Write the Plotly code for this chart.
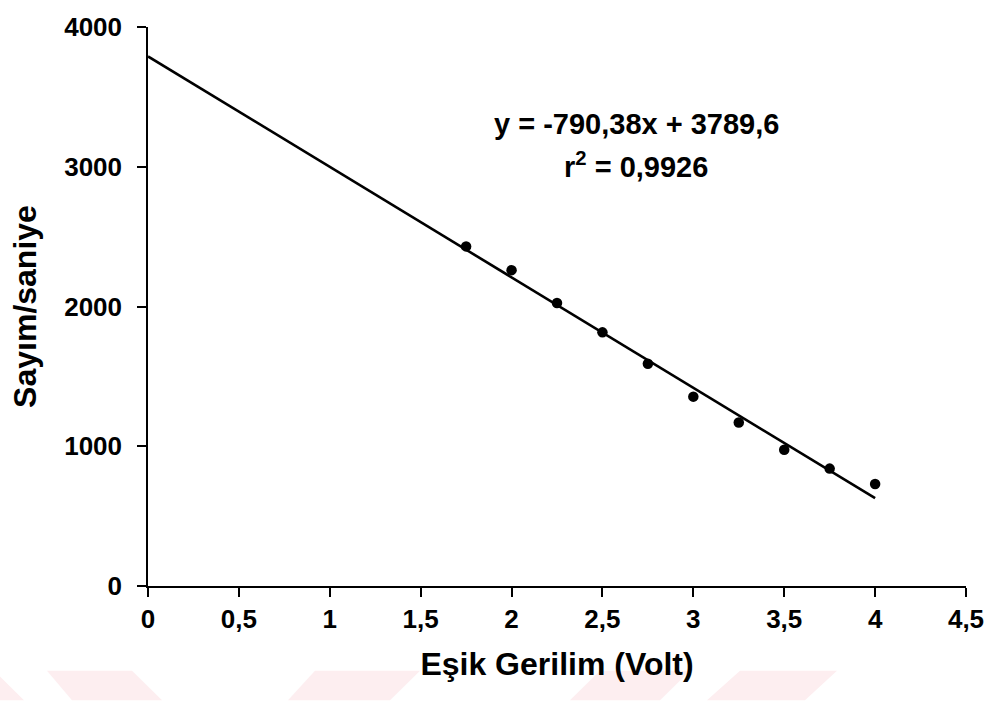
import plotly.graph_objects as go

# Measured count rate versus threshold voltage
esik_gerilim = [1.75, 2.0, 2.25, 2.5, 2.75, 3.0, 3.25, 3.5, 3.75, 4.0]
sayim = [2430, 2260, 2025, 1815, 1590, 1355, 1170, 975, 840, 730]

# Linear trend line parameters (shown in the annotation)
egim = -790.38
kesim = 3789.6
r_kare = 0.9926
trend_x = [0.0, 4.0]

x_tickvals = [0, 0.5, 1, 1.5, 2, 2.5, 3, 3.5, 4, 4.5]
x_ticktext = ["0", "0,5", "1", "1,5", "2", "2,5", "3", "3,5", "4", "4,5"]
y_tickvals = [0, 1000, 2000, 3000, 4000]
y_ticktext = ["0", "1000", "2000", "3000", "4000"]

FONT = "Liberation Sans, Arial, sans-serif"

trend_y = [egim * x + kesim for x in trend_x]

fig = go.Figure()
fig.add_trace(go.Scatter(
    x=trend_x, y=trend_y, mode="lines",
    line=dict(color="black", width=2.6),
    hoverinfo="skip", showlegend=False,
))
fig.add_trace(go.Scatter(
    x=esik_gerilim, y=sayim, mode="markers",
    marker=dict(color="black", size=10.5, symbol="circle"),
    showlegend=False,
))

def fmt(v, nd):
    return f"{v:.{nd}f}".replace(".", ",")

fig.add_annotation(
    x=0.597, y=0.827, xref="paper", yref="paper",
    xanchor="center", yanchor="middle",
    text=f"<b>y = {fmt(egim, 2)}x + {fmt(kesim, 1)}</b>",
    showarrow=False, font=dict(family=FONT, size=29, color="black"),
)
fig.add_annotation(
    x=0.597, y=0.754, xref="paper", yref="paper",
    xanchor="center", yanchor="middle",
    text=f"<b>r<sup>2</sup> = {fmt(r_kare, 4)}</b>",
    showarrow=False, font=dict(family=FONT, size=29, color="black"),
)

# Faint pink background stripes along the bottom of the page
L, T, W, H = 148, 18, 818, 568

def px_path(points):
    parts = []
    for i, (px, py) in enumerate(points):
        xp = (px - L) / W
        yp = (T + H - py) / H
        parts.append(("M" if i == 0 else "L") + f"{xp:.5f},{yp:.5f}")
    return " ".join(parts) + " Z"

stripes = [
    [(0, 678), (0, 702), (24, 702)],
    [(47, 672), (132, 672), (162, 702), (72, 702)],
    [(315, 672), (420, 672), (390, 702), (288, 702)],
    [(600, 672), (690, 672), (660, 702), (570, 702)],
    [(740, 672), (837, 672), (805, 702), (707, 702)],
]
for pts in stripes:
    fig.add_shape(
        type="path", path=px_path(pts), xref="paper", yref="paper",
        fillcolor="#fdeef0", line=dict(width=0), layer="below",
    )

fig.update_layout(
    width=996, height=702,
    margin=dict(l=L, r=996 - L - W, t=T, b=702 - T - H),
    paper_bgcolor="white", plot_bgcolor="rgba(0,0,0,0)",
    font=dict(family=FONT, color="black"),
    xaxis=dict(
        range=[0, 4.5], tickvals=x_tickvals, ticktext=x_ticktext,
        showgrid=False, zeroline=False,
        showline=True, linecolor="black", linewidth=1.5,
        ticks="outside", ticklen=9, tickwidth=1.5, tickcolor="black",
        tickfont=dict(family=FONT, size=26, color="black", weight="bold"),
        title=dict(text="Eşik Gerilim (Volt)", standoff=20,
                   font=dict(family=FONT, size=32, color="black", weight="bold")),
    ),
    yaxis=dict(
        range=[0, 4000], tickvals=y_tickvals, ticktext=y_ticktext,
        showgrid=False, zeroline=False,
        showline=True, linecolor="black", linewidth=1.5,
        ticks="outside", ticklen=9, tickwidth=1.5, tickcolor="black",
        ticklabelstandoff=10,
        tickfont=dict(family=FONT, size=26, color="black", weight="bold"),
        title=dict(text="Sayım/saniye", standoff=18,
                   font=dict(family=FONT, size=32, color="black", weight="bold")),
    ),
)

fig.write_html("out.html")
